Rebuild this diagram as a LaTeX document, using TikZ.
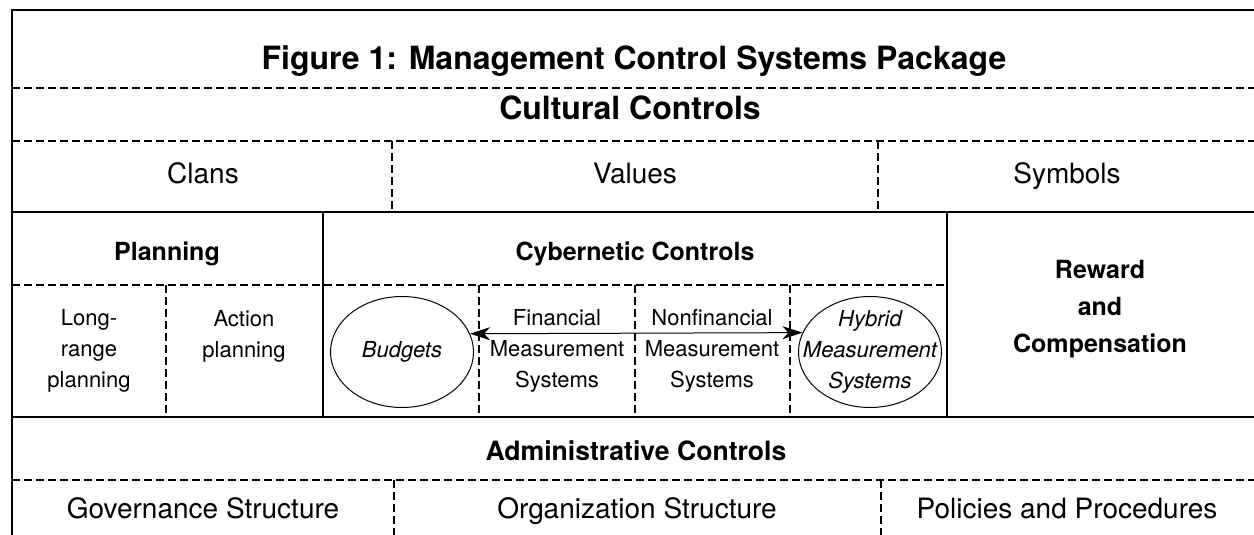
\documentclass[tikz,border=0pt]{standalone}
\usepackage{fontspec}
\setmainfont{TeX Gyre Heros}
\usetikzlibrary{arrows.meta}
\usetikzlibrary{shapes.geometric}
\newcommand{\lsolid}[4]{\draw[solidrule] ( #1 , #2 ) -- ( #3 , #4 );}
\newcommand{\ldash}[4]{\draw[dashrule] ( #1 , #2 ) -- ( #3 , #4 );}

\begin{document}
\begin{tikzpicture}[x=0.5pt, y=-0.5pt,
    solidrule/.style={line width=1.3pt},
    dashrule/.style={line width=1.1pt, dash pattern=on 4pt off 2pt},
    txt/.style={inner sep=0pt, anchor=base},
    bigtitle/.style={txt, font=\bfseries\fontsize{16}{19}\selectfont},
    heading/.style={txt, font=\bfseries\fontsize{12.5}{18.5}\selectfont},
    adminhead/.style={txt, font=\bfseries\fontsize{13.3}{16}\selectfont},
    celltext/.style={txt, font=\fontsize{14}{17}\selectfont},
    smalltext/.style={inner sep=0pt, align=center, font=\fontsize{11}{15.5}\selectfont},
    oval/.style={ellipse, draw, line width=0.5pt, inner sep=0pt, minimum width=71.5pt, minimum height=55.5pt}]
    \useasboundingbox (0,0) rectangle (1254,535);
    % frame
    \draw[line width=0.8pt] (1254,10) -- (12,10) -- (12,535);
    % cultural controls
    \ldash{12}{88}{1254}{88}
    \ldash{12}{141}{1254}{141}
    \ldash{392}{141}{392}{212}
    \ldash{878}{141}{878}{212}
    \node[bigtitle] (title) at (634,70) {Figure 1: Management Control Systems Package};
    \node[bigtitle] (cult) at (630,120) {Cultural Controls};
    \node[celltext] (clans) at (203,184) {Clans};
    \node[celltext] (values) at (635,184) {Values};
    \node[celltext] (symbols) at (1067,184) {Symbols};
    % planning, cybernetic, reward
    \lsolid{12}{212}{1254}{212}
    \lsolid{323}{212}{323}{417}
    \lsolid{947}{212}{947}{417}
    \ldash{12}{285}{947}{285}
    \ldash{166}{285}{166}{417}
    \ldash{479}{285}{479}{417}
    \ldash{635}{285}{635}{417}
    \ldash{790}{285}{790}{417}
    \node[heading] (plan) at (167,260) {Planning};
    \node[heading] (cyber) at (635,260) {Cybernetic Controls};
    \node[heading, align=center, anchor=center] (reward) at (1100,309) {Reward\\and\\Compensation};
    \node[smalltext] (lrp) at (89,351) {Long-\\range\\planning};
    \node[smalltext] (actp) at (244,336) {Action\\planning};
    \node[oval] (bud) at (402,352) {};
    \node[smalltext, font=\itshape\fontsize{11}{15.5}\selectfont] (budtxt) at (bud) {Budgets};
    \node[smalltext] (fin) at (557,351) {Financial\\Measurement\\Systems};
    \node[smalltext] (nonfin) at (712,351) {Nonfinancial\\Measurement\\Systems};
    \node[oval] (hyb) at (870,352) {};
    \node[smalltext, font=\itshape\fontsize{11}{15.5}\selectfont] (hybtxt) at (hyb) {Hybrid\\Measurement\\Systems};
    \draw[{Stealth[length=10pt,width=6.5pt,inset=3pt]}-{Stealth[length=10pt,width=6.5pt,inset=3pt]}, line width=0.5pt] (bud.15.8) -- (hyb.164.2);
    % administrative controls
    \lsolid{12}{417}{1254}{417}
    \ldash{12}{480}{1254}{480}
    \ldash{394}{480}{394}{535}
    \ldash{881}{480}{881}{535}
    \node[adminhead] (admin) at (636,460) {Administrative Controls};
    \node[celltext] (gov) at (203,518) {Governance Structure};
    \node[celltext] (org) at (637,518) {Organization Structure};
    \node[celltext] (pol) at (1067,518) {Policies and Procedures};
\end{tikzpicture}
\end{document}
